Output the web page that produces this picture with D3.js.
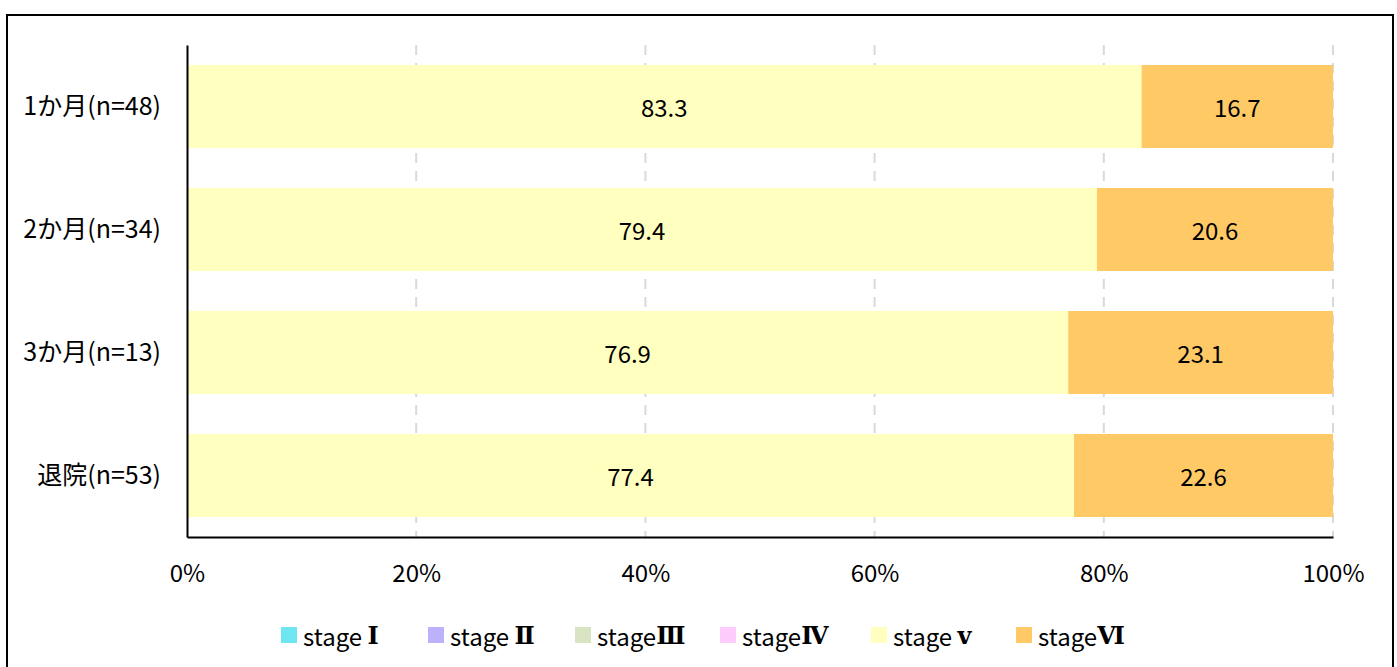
<!DOCTYPE html>
<html><head><meta charset="utf-8">
<script src="https://cdn.jsdelivr.net/npm/d3@7"></script>
<style>body{margin:0;background:#fff;}svg{display:block;}</style>
</head><body>
<svg id="c" width="1397" height="667"></svg>
<script>
const categories = ["1か月(n=48)", "2か月(n=34)", "3か月(n=13)", "退院(n=53)"];
const seriesNames = ["stage Ⅰ", "stage Ⅱ", "stageⅢ", "stageⅣ", "stage ⅴ", "stageⅥ"];
const seriesColors = ["#6de6f2", "#bcb2fb", "#d9e4c3", "#fdccfc", "#ffffbf", "#ffca66"];
const stage1 = [0, 0, 0, 0];
const stage2 = [0, 0, 0, 0];
const stage3 = [0, 0, 0, 0];
const stage4 = [0, 0, 0, 0];
const stage5 = [83.3, 79.4, 76.9, 77.4];
const stage6 = [16.7, 20.6, 23.1, 22.6];
const tickValues = [0, 20, 40, 60, 80, 100];

(function () {
const seriesValues = [stage1, stage2, stage3, stage4, stage5, stage6];
const rows = categories.map((c, i) => {
  const r = {cat: c};
  seriesNames.forEach((s, j) => r[s] = seriesValues[j][i]);
  return r;
});

const svg = d3.select("#c");
const cjk = "'Noto Sans CJK JP', sans-serif";

svg.append("rect").attr("x", 7).attr("y", 15).attr("width", 1386).attr("height", 700)
  .attr("fill", "#fff").attr("stroke", "#000").attr("stroke-width", 2);

const pLeft = 187, pRight = 1333, pTop = 45, pBottom = 537;
const x = d3.scaleLinear().domain([0, 100]).range([pLeft, pRight]);
const y = d3.scaleBand().domain(categories).range([pTop, pBottom]).paddingInner(0.325).paddingOuter(0.1625);

svg.append("g").selectAll("line").data(tickValues.filter(t => t > 0)).join("line")
  .attr("x1", d => x(d)).attr("x2", d => x(d)).attr("y1", pTop).attr("y2", pBottom)
  .attr("stroke", "#d9d9d9").attr("stroke-width", 2).attr("stroke-dasharray", "10,8");

const stack = d3.stack().keys(seriesNames)(rows);
const g = svg.append("g");
stack.forEach((layer, j) => {
  g.selectAll(null).data(layer).join("rect")
    .attr("x", d => x(d[0])).attr("width", d => x(d[1]) - x(d[0]))
    .attr("y", d => y(d.data.cat)).attr("height", y.bandwidth())
    .attr("fill", seriesColors[j]);
  g.selectAll(null).data(layer.filter(d => d[1] - d[0] > 0)).join("text")
    .attr("x", d => (x(d[0]) + x(d[1])) / 2)
    .attr("y", d => y(d.data.cat) + y.bandwidth() / 2)
    .attr("text-anchor", "middle").attr("dominant-baseline", "central")
    .attr("font-family", cjk).attr("font-size", 24).attr("fill", "#000")
    .text(d => (d[1] - d[0]).toFixed(1));
});

const xAxis = svg.append("g").attr("transform", `translate(0,${pBottom})`)
  .call(d3.axisBottom(x).tickValues(tickValues).tickFormat(d => d + "%").tickSize(0).tickPadding(28));
xAxis.select(".domain").attr("stroke", "#000").attr("stroke-width", 2);
xAxis.selectAll("text").attr("font-family", cjk).attr("font-size", 24).attr("fill", "#000");

const yAxis = svg.append("g").attr("transform", `translate(${pLeft},0)`)
  .call(d3.axisLeft(y).tickSize(0).tickPadding(26));
yAxis.select(".domain").attr("stroke", "#000").attr("stroke-width", 2);
yAxis.selectAll("text").attr("font-family", cjk).attr("font-size", 25).attr("fill", "#000");

const legendX = [281, 428, 575, 720, 871, 1016];
const lg = svg.append("g").selectAll("g").data(seriesNames).join("g")
  .attr("transform", (d, i) => `translate(${legendX[i]},627)`);
lg.append("rect").attr("width", 16).attr("height", 16).attr("fill", (d, i) => seriesColors[i]);
const lt = lg.append("text").attr("x", 22).attr("y", 8).attr("dominant-baseline", "central")
  .attr("font-family", cjk).attr("font-size", 24).attr("fill", "#000");
lt.append("tspan").text(d => d.slice(0, -1));
lt.append("tspan").attr("font-family", "'DejaVu Serif', serif").attr("font-weight", "bold")
  .text(d => d.slice(-1));
})();
</script>
</body></html>
